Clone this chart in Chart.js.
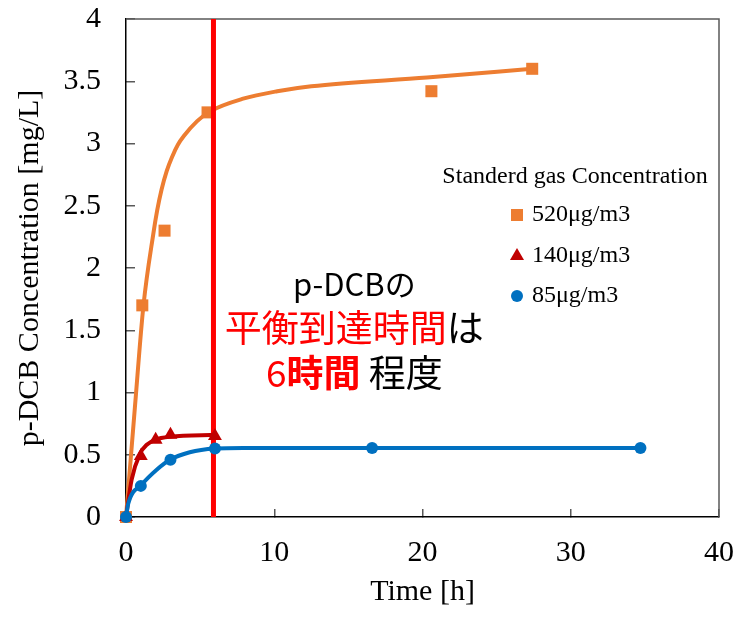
<!DOCTYPE html>
<html>
<head>
<meta charset="utf-8">
<script src="https://cdn.jsdelivr.net/npm/chart.js@4"></script>
<style>
html, body { margin: 0; padding: 0; background: #fff; }
#wrap { width: 743px; height: 618px; }
</style>
</head>
<body>
<div id="wrap"><canvas id="myChart" width="743" height="618"></canvas></div>
<script>
// measured points
var time520 = [0, 1.1, 2.6, 5.5, 20.6, 27.4]
var conc520 = [0, 1.70, 2.30, 3.25, 3.42, 3.60]
var time140 = [0, 1.0, 2.0, 3.0, 6.0]
var conc140 = [0, 0.49, 0.62, 0.66, 0.65]
var time85 = [0, 1.0, 3.0, 6.0, 16.6, 34.7]
var conc85 = [0, 0.25, 0.46, 0.55, 0.555, 0.555]

// fitted curves
var fitTime520 = [0, 0.6, 1.17, 1.85, 2.1, 2.4, 2.75, 3.1, 3.5, 3.9, 4.8, 5.7, 7.9, 10.2, 12.5, 20.3, 27.4]
var fit520 = [0, 0.88, 1.69, 2.28, 2.46, 2.63, 2.78, 2.89, 2.99, 3.06, 3.18, 3.26, 3.36, 3.42, 3.46, 3.53, 3.60]
var fitTime140 = [0, 0.38, 0.95, 1.4, 1.96, 2.97, 6.1]
var fit140 = [0, 0.30, 0.51, 0.58, 0.62, 0.645, 0.66]
var fitTime85 = [0, 0.16, 1.06, 2.07, 2.97, 4.3, 6.0, 7.9, 34.7]
var fit85 = [0, 0.11, 0.26, 0.38, 0.46, 0.52, 0.55, 0.555, 0.555]

// equilibrium marker (about 6 h)
var markTime = [5.9, 5.9]
var markConc = [0, 4]

var seriesLabels = ['520μg/m3', '140μg/m3', '85μg/m3']
var legendTitle = 'Standerd gas Concentration'
var xTicks = [0, 10, 20, 30, 40]
var yTicks = [0, 0.5, 1, 1.5, 2, 2.5, 3, 3.5, 4]

var orange = '#ED7D31'
var darkRed = '#C00000'
var blue = '#0070C0'
var red = '#FF0000'
var serif = '"Liberation Serif", "Times New Roman", serif'
var gothic = '"Noto Sans CJK JP", "Noto Sans", sans-serif'

function pts(xs, ys) {
    var out = []
    for (var i = 0; i < xs.length; i++) out.push({ x: xs[i], y: ys[i] })
    return out
}

function curve(xs, ys, col) {
    return {
        data: pts(xs, ys), borderColor: col, borderWidth: 4, pointRadius: 0,
        showLine: true, cubicInterpolationMode: 'monotone', fill: false, clip: false
    }
}

function marks(xs, ys, col, style, r, label) {
    return {
        label: label, data: pts(xs, ys), backgroundColor: col, borderColor: col, borderWidth: 0,
        pointStyle: style, pointRadius: r, showLine: false, clip: false
    }
}

// first dataset ends up on top
var datasets = [
    marks(time85, conc85, blue, 'circle', 6, seriesLabels[2]),
    curve(fitTime85, fit85, blue),
    marks(time140, conc140, darkRed, 'triangle', 8, seriesLabels[1]),
    curve(fitTime140, fit140, darkRed),
    { data: pts(markTime, markConc), borderColor: red, borderWidth: 5, pointRadius: 0, showLine: true, clip: false },
    marks(time520, conc520, orange, 'rect', 8.5, seriesLabels[0]),
    curve(fitTime520, fit520, orange)
]

var frame = {
    id: 'frame',
    beforeDatasetsDraw: function (chart) {
        var a = chart.chartArea, ctx = chart.ctx
        ctx.save()
        ctx.strokeStyle = '#595959'
        ctx.lineWidth = 1.5
        ctx.beginPath()
        ctx.moveTo(a.left, a.top)
        ctx.lineTo(a.right, a.top)
        ctx.lineTo(a.right, a.bottom)
        ctx.stroke()
        ctx.restore()
    }
}

function marker(ctx, style, x, y) {
    ctx.beginPath()
    if (style == 'rect') ctx.rect(x - 6, y - 6, 12, 12)
    else if (style == 'triangle') {
        ctx.moveTo(x, y - 8); ctx.lineTo(x + 7, y + 4); ctx.lineTo(x - 7, y + 4); ctx.closePath()
    } else ctx.arc(x, y, 6, 0, Math.PI * 2)
    ctx.fill()
}

var notes = {
    id: 'notes',
    afterDraw: function (chart) {
        var ctx = chart.ctx
        var xs = chart.scales.x, ys = chart.scales.y
        ctx.save()
        // legend
        ctx.fillStyle = '#000'
        ctx.font = '24px ' + serif
        ctx.textBaseline = 'middle'
        ctx.textAlign = 'center'
        ctx.fillText(legendTitle, 575, 177)
        var entries = [[orange, 'rect', seriesLabels[0]], [darkRed, 'triangle', seriesLabels[1]], [blue, 'circle', seriesLabels[2]]]
        var rows = [215, 256, 296]
        ctx.textAlign = 'left'
        for (var i = 0; i < entries.length; i++) {
            ctx.fillStyle = entries[i][0]
            marker(ctx, entries[i][1], 517, rows[i])
            ctx.fillStyle = '#000'
            ctx.fillText(entries[i][2], 532, rows[i])
        }

        // Japanese note
        var lines = [
            [{ t: 'p-DCBの', c: '#000', b: false }],
            [{ t: '平衡到達時間', c: red, b: false }, { t: 'は', c: '#000', b: false }],
            [{ t: '6', c: red, b: false }, { t: '時間', c: red, b: true }, { t: ' ', c: '#000', b: false }, { t: '程度', c: '#000', b: false }]
        ]
        var sizes = [31, 37, 37]
        var cx = xs.getPixelForValue(15.4)
        var rowY = [ys.getPixelForValue(1.87), ys.getPixelForValue(1.52), ys.getPixelForValue(1.16)]
        for (var j = 0; j < lines.length; j++) {
            var w = 0
            lines[j].forEach(function (r) {
                ctx.font = (r.b ? 'bold ' : '') + sizes[j] + 'px ' + gothic
                r.w = ctx.measureText(r.t).width
                w += r.w
            })
            var x = cx - w / 2
            lines[j].forEach(function (r) {
                ctx.font = (r.b ? 'bold ' : '') + sizes[j] + 'px ' + gothic
                ctx.fillStyle = r.c
                ctx.fillText(r.t, x, rowY[j])
                x += r.w
            })
        }
        ctx.restore()
    }
}

function noPad(s) {
    s.paddingTop = 0
    s.paddingBottom = 0
    s.paddingLeft = 0
    s.paddingRight = 0
}

var myChart = new Chart('myChart', {
    type: 'scatter',
    data: { datasets: datasets },
    options: {
        responsive: false,
        animation: false,
        layout: { padding: { left: 0, top: 19, right: 24, bottom: 0 } },
        plugins: { legend: { display: false }, tooltip: { enabled: false } },
        scales: {
            x: {
                type: 'linear', min: 0, max: 40,
                afterBuildTicks: function (s) { s.ticks = xTicks.map(function (v) { return { value: v } }) },
                afterFit: function (s) { s.height = 101; noPad(s) },
                grid: { drawOnChartArea: false, tickLength: -8, color: '#595959', lineWidth: 1.5 },
                border: { color: '#000', width: 1.5 },
                ticks: { color: '#000', padding: 26, font: { family: serif, size: 30 }, maxRotation: 0 },
                title: { display: true, text: 'Time [h]', color: '#000', font: { family: serif, size: 30 }, padding: { top: 0, bottom: 8 } }
            },
            y: {
                type: 'linear', min: 0, max: 4,
                afterBuildTicks: function (s) { s.ticks = yTicks.map(function (v) { return { value: v } }) },
                afterFit: function (s) { s.width = 126; noPad(s) },
                grid: { drawOnChartArea: false, tickLength: -9, color: '#595959', lineWidth: 1.5 },
                border: { color: '#000', width: 1.5 },
                ticks: { color: '#000', padding: 34, font: { family: serif, size: 30 }, callback: function (v) { return String(v) } },
                title: { display: true, text: 'p-DCB Concentration [mg/L]', color: '#000', font: { family: serif, size: 30 }, padding: { top: 12, bottom: 0 } }
            }
        }
    },
    plugins: [frame, notes]
})
</script>
</body>
</html>
